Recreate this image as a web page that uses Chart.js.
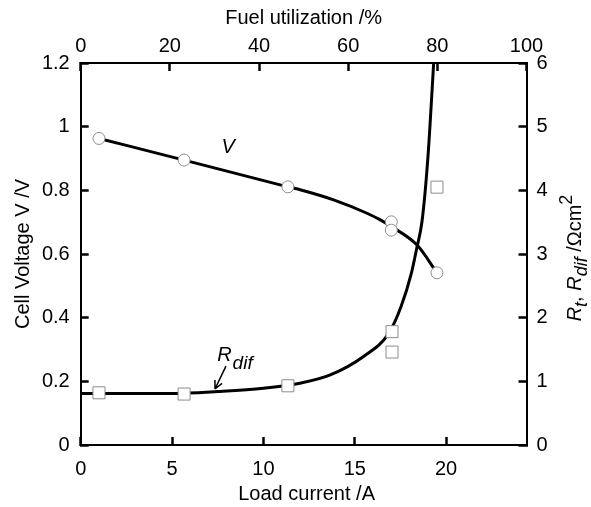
<!DOCTYPE html>
<html>
<head>
<meta charset="utf-8">
<script src="https://cdn.jsdelivr.net/npm/chart.js@4.4.0/dist/chart.umd.min.js"></script>
<style>
  html, body { margin: 0; padding: 0; background: #fff; }
  #wrap { width: 591px; height: 507px; position: relative; }
</style>
</head>
<body>
<div id="wrap"><canvas id="chart"></canvas></div>
<script>
// Measured points
const loadV = [1.0, 5.66, 11.34, 17.0, 17.0, 19.5];
const voltage = [0.963, 0.895, 0.811, 0.701, 0.675, 0.541];
const loadR = [1.0, 5.66, 11.34, 17.04, 17.04, 19.5];
const rdif = [0.82, 0.80, 0.93, 1.78, 1.46, 4.05];

// Fitted curves
const fitLoadV = [1.0, 5.66, 11.34, 12.06, 13.84, 15.67, 16.4, 16.95, 18.41, 19.5];
const fitV = [0.963, 0.895, 0.811, 0.801, 0.77, 0.728, 0.707, 0.688, 0.628, 0.541];
const fitLoadR = [0, 2.5, 5, 7.5, 10, 12, 13.66, 15.48, 16.85, 17.53, 18.1, 18.4, 18.68, 19.0, 19.32];
const fitR = [0.81, 0.81, 0.81, 0.84, 0.89, 0.97, 1.10, 1.39, 1.75, 2.17, 2.70, 3.10, 3.51, 4.50, 6.0];

// Tick labels
const loadTicks = [0, 5, 10, 15, 20];
const fuelTicks = [0, 20, 40, 60, 80, 100];
const voltTicks = [0, 0.2, 0.4, 0.6, 0.8, 1, 1.2];
const resTicks = [0, 1, 2, 3, 4, 5, 6];

const FONT = '"Liberation Sans", Arial, sans-serif';
const FS = 20;

const pts = (xs, ys) => xs.map((x, i) => ({ x: x, y: ys[i] }));

function drawRuns(ctx, runs, cx, cy, rot) {
    ctx.save();
    ctx.translate(cx, cy);
    ctx.rotate(rot);
    ctx.fillStyle = '#000';
    ctx.textBaseline = 'alphabetic';
    const fontOf = r => (r.italic ? 'italic ' : '') + ((r.sub || r.sup) ? FS * 0.9 : FS) + 'px ' + FONT;
    let total = 0;
    runs.forEach(r => { ctx.font = fontOf(r); total += ctx.measureText(r.t).width; });
    let x = -total / 2;
    const base = FS * 0.36;
    runs.forEach(r => {
        ctx.font = fontOf(r);
        const dy = r.sub ? 6 : (r.sup ? -9 : 0);
        ctx.fillText(r.t, x, base + dy);
        x += ctx.measureText(r.t).width;
    });
    ctx.restore();
}

const decorPlugin = {
    id: 'decor',
    afterDraw(chart) {
        const ctx = chart.ctx;
        const a = chart.chartArea;
        const s = chart.scales;
        const midX = (a.left + a.right) / 2;
        const midY = (a.top + a.bottom) / 2;
        // axis titles
        drawRuns(ctx, [{ t: 'Fuel utilization /%' }], midX, 17, 0);
        drawRuns(ctx, [{ t: 'Load current /A' }], midX + 3, 493, 0);
        drawRuns(ctx, [{ t: 'Cell Voltage V /V' }], 22, midY, -Math.PI / 2);
        drawRuns(ctx, [
            { t: 'R', italic: true }, { t: 't', italic: true, sub: true }, { t: ', ' },
            { t: 'R', italic: true }, { t: 'dif', italic: true, sub: true }, { t: ' /\u03A9cm' }, { t: '2', sup: true }
        ], 574, midY + 4, -Math.PI / 2);

        // curve labels
        drawRuns(ctx, [{ t: 'V', italic: true }], s.x.getPixelForValue(8.07), s.y.getPixelForValue(0.94), 0);
        const rx = s.x.getPixelForValue(7.47), ry = s.y2.getPixelForValue(1.43);
        ctx.save();
        ctx.fillStyle = '#000';
        ctx.textBaseline = 'alphabetic';
        ctx.font = 'italic ' + FS + 'px ' + FONT;
        ctx.fillText('R', rx, ry + 7);
        const rw = ctx.measureText('R').width;
        ctx.font = 'italic ' + (FS * 0.95) + 'px ' + FONT;
        ctx.fillText('dif', rx + rw + 1, ry + 15);
        // arrow
        const x0 = s.x.getPixelForValue(7.95), y0 = s.y2.getPixelForValue(1.24);
        const x1 = s.x.getPixelForValue(7.35), y1 = s.y2.getPixelForValue(0.88);
        const ang = Math.atan2(y1 - y0, x1 - x0);
        ctx.strokeStyle = '#000';
        ctx.lineWidth = 1.5;
        ctx.beginPath();
        ctx.moveTo(x0, y0); ctx.lineTo(x1, y1);
        ctx.moveTo(x1, y1); ctx.lineTo(x1 - 9 * Math.cos(ang - 0.45), y1 - 9 * Math.sin(ang - 0.45));
        ctx.moveTo(x1, y1); ctx.lineTo(x1 - 9 * Math.cos(ang + 0.45), y1 - 9 * Math.sin(ang + 0.45));
        ctx.stroke();
        ctx.restore();
    }
};

function fixedTicks(list) {
    return scale => { scale.ticks = list.map(v => ({ value: v })); };
}

const tickFont = { family: FONT, size: FS };
// inward tick marks: negative tick length, nothing drawn on the plot area
const inwardGrid = { display: true, drawOnChartArea: false, drawTicks: true, tickLength: -8, tickWidth: 2.5, tickColor: '#000' };
const frame = { display: true, color: '#000', width: 2 };

new Chart(document.getElementById('chart'), {
    type: 'scatter',
    data: {
        datasets: [
            {
                label: 'V points', data: pts(loadV, voltage), yAxisID: 'y', order: 0,
                pointStyle: 'circle', pointRadius: 6, pointBorderWidth: 1,
                pointBorderColor: '#8c8c8c', pointBackgroundColor: '#fff', showLine: false
            },
            {
                label: 'Rdif points', data: pts(loadR, rdif), yAxisID: 'y2', order: 0,
                pointStyle: 'rect', pointRadius: 8.5, pointBorderWidth: 1,
                pointBorderColor: '#8c8c8c', pointBackgroundColor: '#fff', showLine: false
            },
            {
                label: 'V fit', data: pts(fitLoadV, fitV), yAxisID: 'y', order: 1,
                showLine: true, borderColor: '#000', borderWidth: 3, pointRadius: 0,
                cubicInterpolationMode: 'monotone'
            },
            {
                label: 'Rdif fit', data: pts(fitLoadR, fitR), yAxisID: 'y2', order: 1,
                showLine: true, borderColor: '#000', borderWidth: 3, pointRadius: 0,
                cubicInterpolationMode: 'monotone'
            }
        ]
    },
    options: {
        responsive: true,
        maintainAspectRatio: false,
        animation: false,
        layout: { padding: 0 },
        plugins: { legend: { display: false }, tooltip: { enabled: false } },
        scales: {
            x: {
                type: 'linear', position: 'bottom', min: 0, max: 24.4,
                afterBuildTicks: fixedTicks(loadTicks),
                afterFit: sc => { sc.height = 62; },
                grid: inwardGrid,
                border: frame,
                ticks: { font: tickFont, color: '#000', padding: 20, maxRotation: 0, callback: v => String(v) }
            },
            x2: {
                type: 'linear', position: 'top', min: 0, max: 100,
                afterBuildTicks: fixedTicks(fuelTicks),
                afterFit: sc => { sc.height = 63; },
                grid: inwardGrid,
                border: frame,
                ticks: { font: tickFont, color: '#000', padding: 13, maxRotation: 0, callback: v => String(v) }
            },
            y: {
                type: 'linear', position: 'left', min: 0, max: 1.2,
                afterBuildTicks: fixedTicks(voltTicks),
                afterFit: sc => { sc.width = 80.7; },
                grid: inwardGrid,
                border: frame,
                ticks: { font: tickFont, color: '#000', padding: 19, callback: v => String(v) }
            },
            y2: {
                type: 'linear', position: 'right', min: 0, max: 6,
                afterBuildTicks: fixedTicks(resTicks),
                afterFit: sc => { sc.width = 64.5; },
                grid: inwardGrid,
                border: frame,
                ticks: { font: tickFont, color: '#000', padding: 18, callback: v => String(v) }
            }
        }
    },
    plugins: [decorPlugin]
});
</script>
</body>
</html>
